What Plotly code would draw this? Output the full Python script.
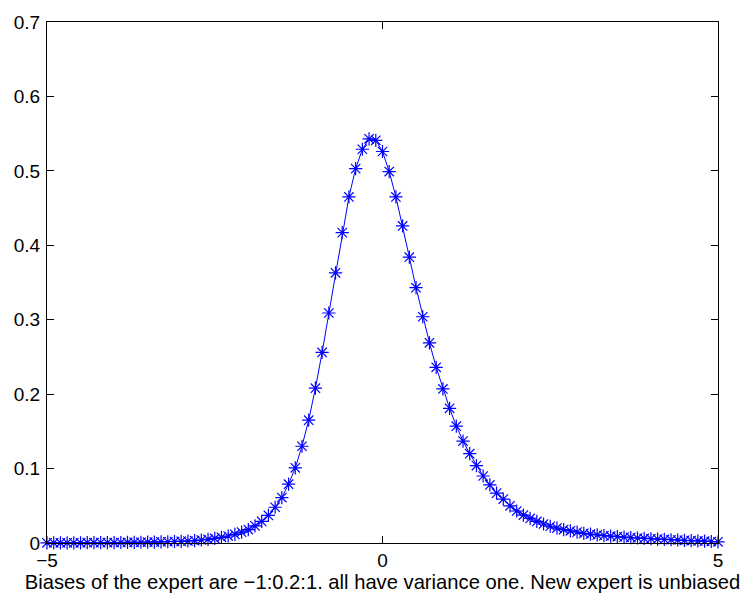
import numpy as np
import plotly.graph_objects as go

# x grid: -5:0.1:5
x_vals = np.round(np.linspace(-5, 5, 101), 1)

y_vals = [
    0.0002, 0.0002, 0.0002, 0.0003, 0.0003, 0.0003, 0.0004, 0.0004, 0.0005, 0.0005,
    0.0006, 0.0007, 0.0008, 0.0009, 0.0010, 0.0012, 0.0013, 0.0015, 0.0017, 0.0020,
    0.0023, 0.0027, 0.0033, 0.0040, 0.0049, 0.0062, 0.0076, 0.0094, 0.0116, 0.0146,
    0.018, 0.023, 0.029, 0.037, 0.048, 0.061, 0.079, 0.101, 0.130, 0.165,
    0.208, 0.256, 0.309, 0.363, 0.417, 0.465, 0.503, 0.529, 0.543, 0.541,
    0.526, 0.499, 0.465, 0.426, 0.384, 0.343, 0.304, 0.269, 0.236, 0.207,
    0.181, 0.157, 0.137, 0.120, 0.104, 0.090, 0.078, 0.067, 0.059, 0.050,
    0.043, 0.0375, 0.033, 0.029, 0.0255, 0.0225, 0.020, 0.018, 0.0164, 0.0146,
    0.013, 0.0118, 0.0108, 0.0099, 0.0092, 0.0085, 0.0079, 0.0073, 0.0067, 0.0062,
    0.0057, 0.0052, 0.0048, 0.0044, 0.0040, 0.0036, 0.0032, 0.0028, 0.0024, 0.0020,
    0.0016,
]

x_ticks = [-5, 0, 5]
y_ticks = [0, 0.1, 0.2, 0.3, 0.4, 0.5, 0.6, 0.7]
y_tick_text = ["0", "0.1", "0.2", "0.3", "0.4", "0.5", "0.6", "0.7"]
x_label = "Biases of the expert are \u22121:0.2:1. all have variance one. New expert is unbiased"

FONT = "Liberation Sans, Arial, sans-serif"

fig = go.Figure()
fig.add_trace(go.Scatter(
    x=x_vals, y=y_vals, mode="lines+markers",
    line=dict(color="#0000ff", width=1),
    marker=dict(symbol="asterisk", size=11, line=dict(color="#0000ff", width=1.2), color="#0000ff"),
    cliponaxis=False, showlegend=False,
))

axis_common = dict(
    showgrid=False, zeroline=False, showline=True, linecolor="black", linewidth=1.3,
    mirror="allticks", ticks="inside", ticklen=7, tickcolor="black", tickwidth=1,
    tickfont=dict(family=FONT, size=19, color="black"),
)

fig.update_layout(
    width=756, height=602,
    margin=dict(l=47, r=38, t=12, b=59),
    paper_bgcolor="white", plot_bgcolor="white",
    font=dict(family=FONT, size=19, color="black"),
    xaxis=dict(range=[-5, 5], tickvals=x_ticks, ticktext=["\u22125", "0", "5"],
               title=dict(text=x_label, font=dict(size=20.2), standoff=2), **axis_common),
    yaxis=dict(range=[0, 0.7], tickvals=y_ticks, ticktext=y_tick_text, ticklabelstandoff=2,
               **axis_common),
)

fig.write_html("out.html")
